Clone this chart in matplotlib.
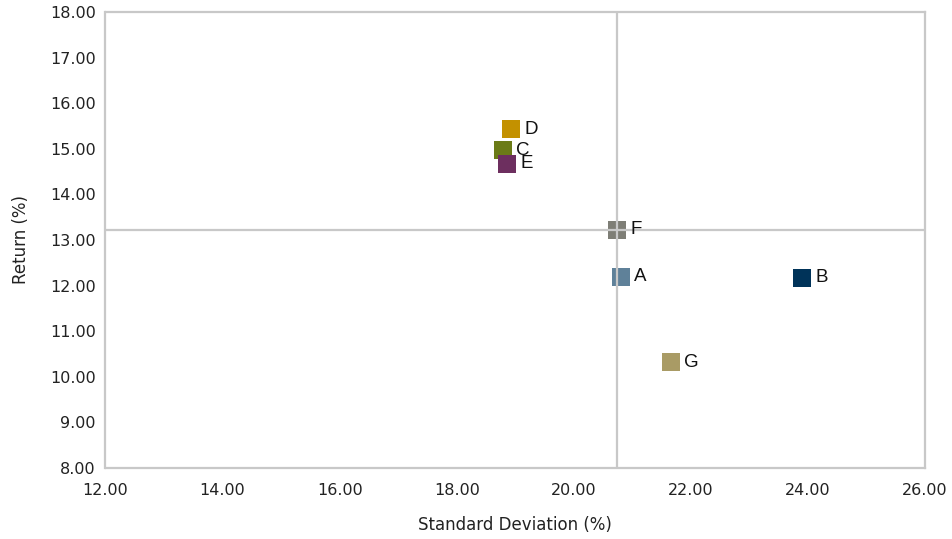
import matplotlib
matplotlib.use("Agg")
import matplotlib.pyplot as plt

# funds: standard deviation (%) vs return (%)
names = ["A", "B", "C", "D", "E", "F", "G"]
std_dev = [20.81, 23.90, 18.79, 18.93, 18.86, 20.74, 21.66]
returns = [12.19, 12.17, 14.97, 15.43, 14.67, 13.22, 10.32]
colours = ["#5F8199", "#003359", "#6B7B17", "#C39100", "#6D2F5F", "#7E7E76", "#A99B65"]

# crosshair at the benchmark (F)
ref_x = 20.74
ref_y = 13.22

x_ticks = [12, 14, 16, 18, 20, 22, 24, 26]
y_ticks = [8, 9, 10, 11, 12, 13, 14, 15, 16, 17, 18]

grey = "#C8C8C8"
tick_font = "DejaVu Sans"

fig = plt.figure(figsize=(9.53, 5.39), dpi=100)
ax = fig.add_axes([105.5 / 953, 1 - 468 / 539, 819.5 / 953, 456 / 539])

for name, xv, yv, col in zip(names, std_dev, returns, colours):
    ax.plot([xv], [yv], marker="s", markersize=13, color=col, linestyle="none",
            markeredgewidth=0, zorder=3)
    ax.annotate(name, (xv, yv), xytext=(9.5, 0), textcoords="offset points",
                ha="left", va="center", fontsize=13.5, family="Liberation Sans",
                color="#111111", zorder=5)

ax.axvline(ref_x, color=grey, linewidth=1.6, zorder=4)
ax.axhline(ref_y, color=grey, linewidth=1.6, zorder=4)

ax.set_xlim(12, 26)
ax.set_ylim(8, 18)
ax.set_xticks(x_ticks)
ax.set_yticks(y_ticks)
ax.set_xticklabels([f"{v:.2f}" for v in x_ticks], family=tick_font, fontsize=11.5, color="#222222")
ax.set_yticklabels([f"{v:.2f}" for v in y_ticks], family=tick_font, fontsize=11.5, color="#222222")
ax.tick_params(length=0)
ax.tick_params(axis="x", pad=11)
ax.tick_params(axis="y", pad=7)

for sp in ax.spines.values():
    sp.set_color(grey)
    sp.set_linewidth(1.6)

ax.set_xlabel("Standard Deviation (%)", family=tick_font, fontsize=12, color="#222222", labelpad=13)
ax.set_ylabel("Return (%)", family=tick_font, fontsize=12, color="#222222", labelpad=14)

fig.savefig("out.png", dpi=100)
